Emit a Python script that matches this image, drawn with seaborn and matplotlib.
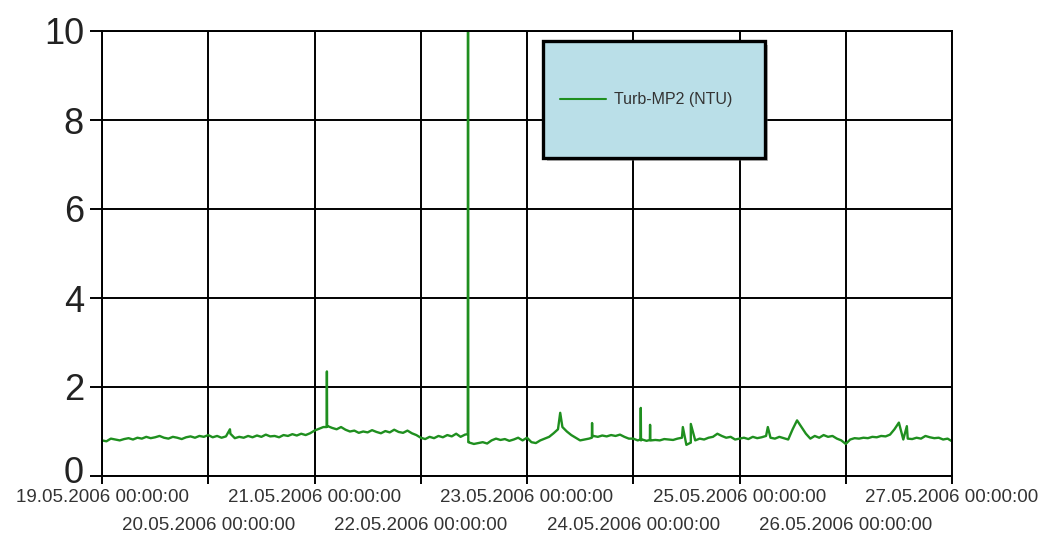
import numpy as np
import pandas as pd
import matplotlib
matplotlib.use("Agg")
import matplotlib.pyplot as plt
import matplotlib.transforms as mtransforms
import seaborn as sns
from matplotlib.patches import Rectangle

# ---------------- data (hourly readings) ----------------
start_time = "2006-05-19 00:00:00"
series_name = "Turb-MP2 (NTU)"

day_19 = [0.80, 0.78, 0.84, 0.82, 0.80, 0.83, 0.85, 0.82, 0.86, 0.84, 0.88, 0.85,
          0.87, 0.90, 0.86, 0.84, 0.88, 0.86, 0.83, 0.87, 0.89, 0.86, 0.90, 0.88]
day_20 = [0.92, 0.87, 0.90, 0.86, 0.89, 0.95, 0.85, 0.88, 0.86, 0.90, 0.87, 0.91,
          0.88, 0.93, 0.89, 0.90, 0.87, 0.92, 0.90, 0.94, 0.91, 0.95, 0.92, 0.96]
day_21 = [1.02, 1.06, 1.10, 1.12, 1.08, 1.05, 1.10, 1.04, 1.00, 1.02, 0.97, 1.00,
          0.98, 1.03, 0.99, 0.96, 1.01, 0.98, 1.04, 0.99, 0.97, 1.02, 0.96, 0.92]
day_22 = [0.86, 0.83, 0.88, 0.85, 0.90, 0.87, 0.92, 0.89, 0.95, 0.88, 0.93, 0.75,
          0.72, 0.74, 0.76, 0.73, 0.80, 0.84, 0.81, 0.83, 0.79, 0.82, 0.86, 0.80]
day_23 = [0.86, 0.76, 0.74, 0.80, 0.84, 0.88, 0.96, 1.05, 1.10, 1.00, 0.92, 0.86,
          0.80, 0.82, 0.84, 0.90, 0.88, 0.91, 0.89, 0.92, 0.90, 0.93, 0.88, 0.84]
day_24 = [0.84, 0.80, 0.82, 0.79, 0.80, 0.81, 0.80, 0.83, 0.82, 0.81, 0.84, 0.86,
          0.70, 0.75, 0.80, 0.84, 0.82, 0.86, 0.88, 0.95, 0.90, 0.86, 0.88, 0.82]
day_25 = [0.84, 0.86, 0.83, 0.88, 0.85, 0.87, 0.90, 0.86, 0.84, 0.88, 0.85, 0.82,
          1.05, 1.25, 1.10, 0.95, 0.84, 0.90, 0.86, 0.92, 0.88, 0.90, 0.84, 0.80]
day_26 = [0.72, 0.82, 0.85, 0.84, 0.86, 0.85, 0.88, 0.87, 0.90, 0.89, 0.93, 1.05,
          1.20, 0.82, 0.84, 0.83, 0.86, 0.84, 0.90, 0.87, 0.85, 0.86, 0.82, 0.84]
day_27 = [0.78]

# short spikes (hours after start, value)
spike_hours = [28.9, 50.75, 50.8, 50.85, 82.62, 82.68, 82.74, 103.5,
               110.65, 110.7, 110.75, 121.65, 121.7, 121.75,
               123.75, 123.8, 123.85, 131.2, 133.0, 150.4, 181.8]
spike_values = [1.05, 1.10, 2.35, 1.12, 0.94, 12.0, 0.76, 1.42,
                0.86, 1.19, 0.88, 0.82, 1.53, 0.80,
                0.81, 1.15, 0.80, 1.10, 1.17, 1.10, 1.12]

tick_labels = ["19.05.2006 00:00:00", "20.05.2006 00:00:00", "21.05.2006 00:00:00",
               "22.05.2006 00:00:00", "23.05.2006 00:00:00", "24.05.2006 00:00:00",
               "25.05.2006 00:00:00", "26.05.2006 00:00:00", "27.05.2006 00:00:00"]
y_ticks = [0, 2, 4, 6, 8, 10]

# ---------------- build frame ----------------
hourly = day_19 + day_20 + day_21 + day_22 + day_23 + day_24 + day_25 + day_26 + day_27
hours = list(range(len(hourly)))
df = pd.DataFrame({"hour": hours + spike_hours, "value": hourly + spike_values})
df = df.sort_values("hour").reset_index(drop=True)
t0 = pd.Timestamp(start_time)
df["time"] = t0 + pd.to_timedelta(df["hour"], unit="h")
df["series"] = series_name

# ---------------- plot ----------------
sns.set_style("white")
plt.rcParams["font.family"] = ["Liberation Sans", "DejaVu Sans"]

fig = plt.figure(figsize=(10.46, 5.39), dpi=100)
ax = fig.add_axes([102 / 1046, 63 / 539, 850 / 1046, 445 / 539])

green = "#1f8f1f"
sns.lineplot(data=df, x="time", y="value", hue="series", palette=[green],
             linewidth=1.7, ax=ax, estimator=None, sort=False)

tick_times = [pd.Timestamp(pd.to_datetime(s, format="%d.%m.%Y %H:%M:%S")) for s in tick_labels]
ax.set_xlim(tick_times[0], tick_times[-1])
ax.set_ylim(y_ticks[0], y_ticks[-1])
ax.set_xticks(tick_times)
ax.set_xticklabels(tick_labels, fontsize=13.5, color="#333333")
ax.set_yticks(y_ticks)
ax.set_yticklabels([str(v) for v in y_ticks], fontsize=26, color="#222222")
ax.set_xlabel("")
ax.set_ylabel("")

ax.grid(True, color="black", linewidth=1.4)
ax.set_axisbelow(True)
for sp in ax.spines.values():
    sp.set_color("black")
    sp.set_linewidth(1.4)
    sp.set_visible(True)

ax.tick_params(axis="y", direction="out", length=9, width=1.4, color="black", pad=4, left=True)
ax.tick_params(axis="x", direction="out", length=6, width=1.4, color="black", bottom=True)
for i, tk in enumerate(ax.xaxis.get_major_ticks()):
    tk.set_pad(3.5 if i % 2 == 0 else 23.5)

# nudge the "0" label up a little so it clears the first date label
zero_lbl = ax.yaxis.get_major_ticks()[0].label1
zero_lbl.set_transform(zero_lbl.get_transform() +
                       mtransforms.ScaledTranslation(0, 5 / 72, fig.dpi_scale_trans))

# legend box with shadow
sh = Rectangle((0.523, 0.707), 0.261, 0.262, transform=ax.transAxes,
               facecolor="#666666", alpha=0.45, edgecolor="none", zorder=5)
ax.add_patch(sh)
box = Rectangle((0.519, 0.715), 0.261, 0.262, transform=ax.transAxes,
                facecolor="#badfe8", edgecolor="black", linewidth=2.4, zorder=6)
ax.add_patch(box)
leg = ax.legend(loc="center left", bbox_to_anchor=(0.522, 0.845), frameon=False,
                fontsize=11.5, handlelength=2.9, handletextpad=0.5)
leg.set_zorder(7)
for txt in leg.get_texts():
    txt.set_color("#333333")
for ln in leg.get_lines():
    ln.set_linewidth(1.5)

fig.savefig("out.png", dpi=100)
